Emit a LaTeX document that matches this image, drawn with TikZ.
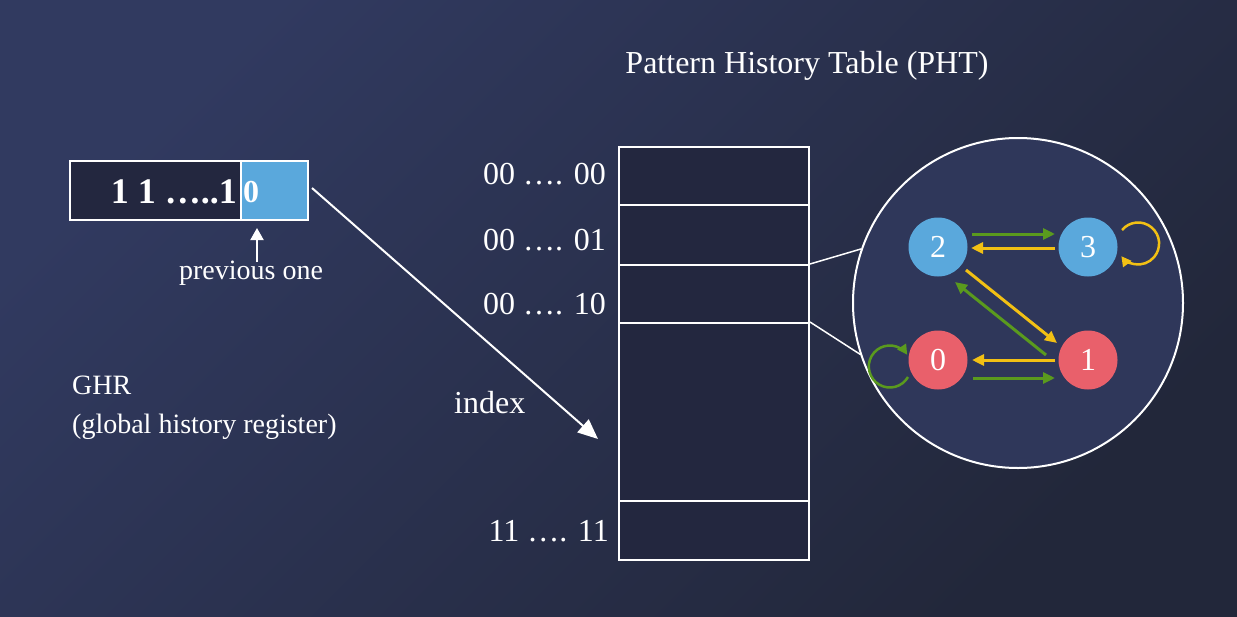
\documentclass[tikz,border=0pt]{standalone}
\usepackage{fontspec}
\setmainfont{Liberation Serif}
\usetikzlibrary{arrows.meta,calc}
\definecolor{bgA}{HTML}{313A60}
\definecolor{bgB}{HTML}{22273A}
\definecolor{cellfill}{HTML}{23273F}
\definecolor{lblue}{HTML}{5AA8DC}
\definecolor{sred}{HTML}{E9606B}
\definecolor{sgreen}{HTML}{5A9A1E}
\definecolor{syellow}{HTML}{F2C014}
\definecolor{circfill}{HTML}{2F375A}
\begin{document}
\begin{tikzpicture}[x=1pt,y=-1pt,
  txt/.style={text=white,inner sep=0pt,font=\fontsize{32}{38}\selectfont},
  smalltxt/.style={text=white,inner sep=0pt,font=\fontsize{28}{34}\selectfont},
  cellbox/.style={draw=white,line width=2pt,fill=cellfill},
  state/.style={circle,minimum size=59pt,inner sep=0pt,text=white,font=\fontsize{32}{38}\selectfont},
  tarrow/.style={line width=3pt,-{Triangle[length=12pt,width=11pt]}},
  garrow/.style={tarrow,draw=sgreen},
  yarrow/.style={tarrow,draw=syellow},
  warrow/.style={draw=white,line width=2pt}
]
\useasboundingbox (0,0) rectangle (1237,616);
\fill[top color=bgA,bottom color=bgB,shading angle=45] (0,0) rectangle (1237,616);

% title
\node[txt,anchor=base] (title) at (807,73) {Pattern History Table (PHT)};

% GHR register
\node[cellbox,anchor=north west,minimum width=171pt,minimum height=59pt,inner sep=0pt] (ghrA) at (69,160) {};
\node[cellbox,fill=lblue,anchor=north west,minimum width=67pt,minimum height=59pt,inner sep=0pt] (ghrB) at (240,160) {};
\node[text=white,inner sep=0pt,anchor=base east,font=\fontsize{36}{40}\selectfont\bfseries] (bits) at (237,203) {1 1 …..1};
\node[text=white,inner sep=0pt,anchor=base west,font=\fontsize{32}{38}\selectfont\bfseries] (last) at (243,202) {0};
\node[smalltxt,anchor=base] (prev) at (251,279) {previous one};
\coordinate (prevtop) at (257,228);
\draw[warrow,-{Triangle[length=12pt,width=13pt]}] (257,262) -- (prevtop);

\node[smalltxt,anchor=base west] (ghr) at (72,394) {GHR};
\node[smalltxt,anchor=base west] (ghrlong) at (72,433) {(global history register)};

% index arrow
\coordinate (idxstart) at (312,188);
\coordinate (idxend) at (598,439);
\draw[warrow,-{Triangle[length=20pt,width=17pt]}] (idxstart) -- (idxend);
\node[txt,anchor=base west] (index) at (454,413) {index};

% PHT table
\node[cellbox,anchor=north west,minimum width=190pt,minimum height=58pt,inner sep=0pt] (r0) at (618,146) {};
\node[cellbox,anchor=north west,minimum width=190pt,minimum height=60pt,inner sep=0pt] (r1) at (618,204) {};
\node[cellbox,anchor=north west,minimum width=190pt,minimum height=59pt,inner sep=0pt] (r2) at (618,264) {};
\node[cellbox,anchor=north west,minimum width=190pt,minimum height=178pt,inner sep=0pt] (r3) at (618,322) {};
\node[cellbox,anchor=north west,minimum width=190pt,minimum height=59pt,inner sep=0pt] (r4) at (618,500) {};

\node[txt,anchor=base east] (l0) at (606,184) {00 …. 00};
\node[txt,anchor=base east] (l1) at (606,250) {00 …. 01};
\node[txt,anchor=base east] (l2) at (606,314) {00 …. 10};
\node[txt,anchor=base east] (l4) at (609,541) {11 ….  11};

% zoom circle
\node[circle,draw=white,line width=2pt,fill=circfill,minimum size=330pt,inner sep=0pt] (circ) at (1018,303) {};
\draw[warrow,line width=1.5pt] (r2.north east) -- (circ.161);
\draw[warrow,line width=1.5pt] (r3.north east) -- (circ.198);

% states
\node[state,fill=lblue] (s2) at (938,247) {2};
\node[state,fill=lblue] (s3) at (1088,247) {3};
\node[state,fill=sred] (s0) at (938,360) {0};
\node[state,fill=sred] (s1) at (1088,360) {1};

\draw[garrow] ($(s2)+(34,-13)$) -- ($(s3)+(-33,-13)$);
\draw[yarrow] ($(s3)+(-33,1)$) -- ($(s2)+(33,1)$);
\draw[yarrow] ($(s2)+(28,23)$) -- ($(s1)+(-31,-17)$);
\draw[garrow] ($(s1)+(-42,-5)$) -- ($(s2)+(17,35)$);
\draw[yarrow] ($(s1)+(-33,0)$) -- ($(s0)+(34,0)$);
\draw[garrow] ($(s0)+(35,18)$) -- ($(s1)+(-33,18)$);

% self loops
\draw[line width=2.5pt,draw=sgreen,-{Triangle[length=10pt,width=10pt]}] ($(s0)+(-30,17)$) arc[start angle=30,end angle=326,radius=21];
\draw[line width=2.5pt,draw=syellow,-{Triangle[length=10pt,width=10pt]}] ($(s3)+(34,-17)$) arc[start angle=-140,end angle=143,radius=21];
\end{tikzpicture}
\end{document}
